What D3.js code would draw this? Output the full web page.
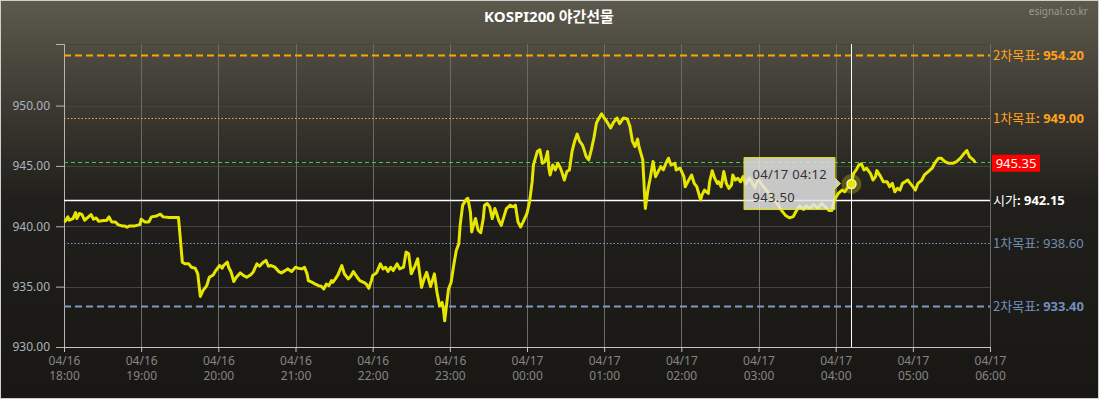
<!DOCTYPE html>
<html>
<head>
<meta charset="utf-8">
<script src="https://cdn.jsdelivr.net/npm/d3@7"></script>
<style>
  body { margin: 0; background: #fff; }
  svg { display: block; font-family: "Noto Sans", "Noto Sans CJK KR", sans-serif; }
</style>
</head>
<body>
<div id="chart"></div>
<script>
const svgWidth = 1099
const svgHeight = 399

let margin = {
  top: 44,
  right: 109,
  bottom: 52,
  left: 64
}

let width = svgWidth - margin.left - margin.right
let height = svgHeight - margin.top - margin.bottom

// ---- data ----
const chartTitle = "KOSPI200 야간선물"
const sourceText = "esignal.co.kr"
const sessionStart = new Date(2019, 3, 16, 18, 0)
const sessionEnd = new Date(2019, 3, 17, 6, 0)
const yDomain = [930, 955.1]
const yTicks = [930, 935, 940, 945, 950]

// minutes after 04/16 18:00
const minutes = [
  1, 3, 4, 7, 9, 10, 12, 14, 16, 19, 21, 23, 25, 27, 31, 33, 35, 37, 40, 42,
  45, 47, 49, 51, 55, 59, 60, 63, 66, 68, 72, 75, 77, 82, 89, 90, 92, 94, 97, 99,
  102, 104, 106, 108, 111, 113, 116, 118, 121, 123, 124, 127, 128, 130, 132, 134, 137, 139, 142, 145,
  147, 150, 152, 155, 157, 159, 161, 164, 167, 169, 172, 174, 177, 180, 182, 185, 187, 189, 190, 193,
  195, 198, 200, 202, 204, 206, 208, 209, 211, 213, 216, 218, 221, 223, 225, 228, 230, 233, 235, 237,
  239, 240, 243, 246, 248, 250, 252, 254, 256, 259, 261, 264, 266, 268, 270, 273, 275, 278, 280, 282,
  285, 288, 290, 292, 294, 295, 296, 298, 299, 301, 303, 305, 307, 308, 310, 313, 314, 316, 317, 318,
  320, 322, 324, 326, 327, 329, 331, 333, 335, 336, 338, 340, 342, 344, 347, 349, 351, 353, 355, 357,
  360, 362, 364, 365, 368, 370, 372, 374, 376, 377, 378, 380, 382, 384, 386, 387, 389, 391, 393, 395,
  397, 399, 401, 403, 404, 406, 408, 410, 412, 414, 416, 418, 420, 422, 425, 427, 430, 432, 435, 438,
  440, 442, 444, 446, 447, 450, 452, 454, 456, 458, 460, 462, 464, 466, 468, 470, 472, 475, 476, 479,
  482, 483, 485, 488, 490, 492, 495, 496, 498, 501, 502, 504, 506, 508, 509, 511, 513, 515, 517, 519,
  520, 522, 524, 526, 528, 530, 533, 537, 540, 543, 546, 549, 552, 555, 558, 561, 564, 567, 569, 572,
  575, 577, 580, 583, 586, 589, 592, 595, 597, 599, 602, 605, 607, 610, 612, 614, 616, 618, 620, 622,
  624, 627, 629, 631, 632, 635, 637, 640, 642, 644, 646, 648, 650, 652, 654, 656, 658, 660, 662, 664,
  667, 669, 672, 675, 677, 680, 682, 685, 688, 691, 694, 697, 699, 702, 704, 707, 708
]

const prices = [
  940.42, 940.78, 940.50, 940.64, 941.14, 940.64, 941.06, 940.97, 940.50, 940.78,
  940.97, 940.58, 940.69, 940.42, 940.47, 940.47, 940.78, 940.36, 940.36, 940.14,
  940.03, 940.03, 939.92, 940.03, 940.03, 940.14, 940.58, 940.36, 940.36, 940.78,
  940.86, 941.00, 940.78, 940.72, 940.72, 939.53, 937.03, 936.89, 936.89, 936.61,
  936.53, 936.06, 934.19, 934.67, 935.08, 935.78, 935.97, 936.33, 936.75, 936.53,
  936.75, 937.03, 936.61, 936.19, 935.42, 935.78, 936.14, 935.97, 935.78, 935.97,
  936.19, 936.89, 936.69, 937.03, 937.17, 936.69, 936.75, 936.61, 936.25, 936.14,
  936.33, 936.47, 936.25, 936.61, 936.53, 936.47, 936.61, 936.06, 935.50, 935.36,
  935.22, 935.08, 935.03, 934.81, 935.22, 935.08, 935.50, 935.36, 935.64, 935.97,
  936.75, 936.06, 935.64, 935.86, 936.25, 935.78, 935.50, 935.36, 935.22, 934.86,
  935.50, 935.92, 936.14, 936.89, 936.47, 936.61, 936.25, 936.61, 936.33, 936.89,
  936.47, 936.61, 937.86, 937.72, 936.06, 936.75, 937.31, 934.94, 935.64, 936.19,
  935.00, 936.06, 934.53, 933.42, 933.69, 933.14, 932.17, 933.97, 934.81, 935.36,
  936.75, 938.00, 938.56, 940.08, 941.75, 942.25, 942.31, 941.19, 939.53, 939.94,
  940.64, 939.67, 939.47, 940.64, 941.75, 941.89, 941.61, 940.64, 941.47, 941.19,
  940.50, 940.08, 940.78, 941.47, 941.75, 941.61, 941.75, 940.36, 939.94, 940.36,
  941.06, 942.03, 943.69, 945.08, 946.19, 946.33, 945.22, 945.36, 946.19, 944.81,
  944.25, 945.08, 944.67, 945.22, 944.81, 944.53, 943.83, 944.53, 944.67, 946.19,
  947.03, 947.64, 947.03, 946.75, 946.47, 945.78, 945.50, 946.33, 947.31, 948.56,
  948.97, 949.31, 948.97, 948.69, 948.14, 948.56, 948.97, 948.50, 948.97, 948.89,
  948.28, 947.03, 946.61, 947.22, 946.61, 945.50, 941.47, 943.00, 944.11, 945.36,
  944.11, 944.53, 944.94, 944.67, 945.22, 945.64, 945.08, 945.22, 944.67, 944.81,
  944.11, 943.28, 943.69, 944.25, 943.56, 943.28, 942.17, 942.58, 943.00, 942.72,
  943.69, 944.60, 943.97, 943.56, 943.69, 943.28, 944.53, 943.56, 943.14, 943.42,
  944.25, 943.83, 943.97, 943.69, 944.11, 943.50, 944.00, 943.20, 943.90, 943.40,
  943.00, 942.60, 942.20, 941.80, 941.30, 940.90, 940.70, 940.80, 941.20, 941.70,
  941.40, 941.70, 941.50, 941.80, 941.50, 941.90, 941.60, 941.30, 941.30, 942.17,
  942.72, 943.00, 942.86, 943.30, 943.50, 944.39, 944.67, 945.08, 945.17, 944.67,
  944.81, 944.39, 943.83, 944.11, 944.61, 944.11, 943.69, 943.69, 943.28, 943.56,
  942.86, 943.14, 943.00, 943.56, 943.69, 943.83, 943.56, 943.28, 943.00, 943.56,
  943.83, 944.25, 944.53, 944.81, 945.22, 945.64, 945.64, 945.36, 945.22, 945.22,
  945.36, 945.64, 945.92, 946.28, 945.78, 945.50, 945.35
]

// reference levels drawn across the chart
const levelNames = ["2차목표", "1차목표", "", "시가", "1차목표", "2차목표"]
const levelValues = [954.20, 949.00, 945.35, 942.15, 938.60, 933.40]

// hovered point
const tooltipMinute = 612
const tooltipPrice = 943.50
const tooltipLabel = "04/17 04:12"

// ---- styles for the levels (same order as levelValues) ----
const levelStyles = [
  { color: "#ffa500", width: 2, dash: "7,4", text: "#ffa31a", weight: "bold" },
  { color: "#f0b040", width: 1, dash: "1.5,2", text: "#ffa31a", weight: "bold" },
  { color: "#3ad43a", width: 1, dash: "4,3", text: "#ffffff", weight: "normal" },
  { color: "#ffffff", width: 1.5, dash: null, text: "#ffffff", weight: "bold" },
  { color: "#7f9cc4", width: 1, dash: "1.5,2", text: "#6f8cb0", weight: "normal" },
  { color: "#7b9bc2", width: 2, dash: "7,4", text: "#6f8fbd", weight: "bold" }
]

let svg = d3
  .select("#chart")
  .append("svg")
  .attr("width", svgWidth)
  .attr("height", svgHeight)

// background gradient
let grad = svg.append("defs")
  .append("linearGradient")
  .attr("id", "bg")
  .attr("x1", 0).attr("y1", 0).attr("x2", 0).attr("y2", 1)
grad.append("stop").attr("offset", "0%").attr("stop-color", "#5c594d")
grad.append("stop").attr("offset", "25%").attr("stop-color", "#3e3b33")
grad.append("stop").attr("offset", "50%").attr("stop-color", "#211f1b")
grad.append("stop").attr("offset", "100%").attr("stop-color", "#191713")

svg.append("rect")
  .attr("x", 0.5).attr("y", 0.5)
  .attr("width", svgWidth - 1).attr("height", svgHeight - 1)
  .attr("fill", "url(#bg)")
  .attr("stroke", "#cfcfcf")

svg.append("text")
  .attr("x", 549)
  .attr("y", 22)
  .attr("text-anchor", "middle")
  .attr("fill", "#ffffff")
  .attr("font-size", 15)
  .attr("font-weight", "bold")
  .text(chartTitle)

svg.append("text")
  .attr("x", 1088)
  .attr("y", 15)
  .attr("text-anchor", "end")
  .attr("fill", "#9a9a9a")
  .attr("font-size", 10)
  .text(sourceText)

let chartGroup = svg
  .append("g")
  .attr("transform", `translate(${margin.left}, ${margin.top})`)

let xTimeScale = d3.scaleTime().domain([sessionStart, sessionEnd]).range([0, width])
let yLinearScale = d3.scaleLinear().domain(yDomain).range([height, 0])

let toDate = m => new Date(sessionStart.getTime() + m * 60000)
let hourTicks = xTimeScale.ticks(d3.timeHour.every(1))

// horizontal grid
chartGroup.append("g")
  .selectAll("line")
  .data(yTicks.concat([yDomain[1]]))
  .enter()
  .append("line")
  .attr("x1", 0)
  .attr("x2", width)
  .attr("y1", d => Math.round(yLinearScale(d)) + 0.5)
  .attr("y2", d => Math.round(yLinearScale(d)) + 0.5)
  .attr("stroke", "#47443d")

// vertical grid
chartGroup.append("g")
  .selectAll("line")
  .data(hourTicks)
  .enter()
  .append("line")
  .attr("x1", d => Math.round(xTimeScale(d)) + 0.5)
  .attr("x2", d => Math.round(xTimeScale(d)) + 0.5)
  .attr("y1", 0)
  .attr("y2", height)
  .attr("stroke", "#6b6a66")

// axes
let leftAxis = d3.axisLeft(yLinearScale)
  .tickValues(yTicks)
  .tickFormat(d3.format(".2f"))
  .tickSizeInner(8)
  .tickSizeOuter(8)
  .tickPadding(6)

let yAxisG = chartGroup.append("g").call(leftAxis)
yAxisG.select(".domain").attr("stroke", "#b5b5b5")
yAxisG.selectAll(".tick line").attr("stroke", "#b5b5b5")
yAxisG.selectAll(".tick text")
  .attr("fill", "#aab3bc")
  .attr("font-size", 12)
  .attr("font-family", "Noto Sans, sans-serif")

let bottomAxis = d3.axisBottom(xTimeScale)
  .tickValues(hourTicks)
  .tickFormat(d3.timeFormat("%m/%d|%H:%M"))
  .tickSizeInner(5)
  .tickSizeOuter(0)

let xAxisG = chartGroup.append("g")
  .attr("transform", `translate(0, ${height})`)
  .call(bottomAxis)
xAxisG.select(".domain").attr("stroke", "#c4c4c4")
xAxisG.selectAll(".tick line").attr("stroke", "#c4c4c4")
xAxisG.selectAll(".tick text")
  .attr("fill", "#858585")
  .attr("font-size", 12)
  .attr("font-family", "Noto Sans, sans-serif")
  .each(function() {
    let parts = d3.select(this).text().split("|")
    let t = d3.select(this).text(null).attr("y", 0).attr("dy", null)
    t.append("tspan").attr("x", 0).attr("y", 18).text(parts[0])
    t.append("tspan").attr("x", 0).attr("y", 33).text(parts[1])
  })

// level lines
let levels = levelValues.map((v, i) => ({ name: levelNames[i], value: v, style: levelStyles[i] }))

chartGroup.append("g")
  .selectAll("line")
  .data(levels)
  .enter()
  .append("line")
  .attr("x1", 0)
  .attr("x2", width)
  .attr("y1", d => Math.round(yLinearScale(d.value)) + 0.5)
  .attr("y2", d => Math.round(yLinearScale(d.value)) + 0.5)
  .attr("stroke", d => d.style.color)
  .attr("stroke-width", d => d.style.width)
  .attr("stroke-dasharray", d => d.style.dash)

// price line
let series = minutes.map((m, i) => ({ date: toDate(m), price: prices[i] }))

let line = d3.line()
  .x(d => xTimeScale(d.date))
  .y(d => yLinearScale(d.price))

chartGroup.append("path")
  .datum(series)
  .attr("d", line)
  .attr("fill", "none")
  .attr("stroke", "#e6e600")
  .attr("stroke-width", 3)
  .attr("stroke-linejoin", "round")
  .attr("stroke-linecap", "round")

// level labels on the right
let labelGroup = chartGroup.append("g")
  .attr("transform", `translate(${width + 3}, 0)`)

levels.forEach(d => {
  let y = yLinearScale(d.value)
  if (d.name === "") {
    labelGroup.append("rect")
      .attr("x", -1)
      .attr("y", y - 7)
      .attr("width", 48)
      .attr("height", 17)
      .attr("fill", "#ff0000")
    labelGroup.append("text")
      .attr("x", 23)
      .attr("y", y + 6)
      .attr("text-anchor", "middle")
      .attr("fill", d.style.text)
      .attr("font-size", 13)
      .text(d3.format(".2f")(d.value))
    return
  }
  let t = labelGroup.append("text")
    .attr("x", 0)
    .attr("y", y + 5)
    .attr("fill", d.style.text)
    .attr("font-size", 13)
  t.append("tspan").attr("font-family", "Noto Sans CJK KR").text(d.name)
  t.append("tspan").attr("font-weight", d.style.weight).text(": " + d3.format(".2f")(d.value))
})

// crosshair + marker
let hx = Math.round(xTimeScale(toDate(tooltipMinute))) + 0.5
let hy = yLinearScale(tooltipPrice)

chartGroup.append("line")
  .attr("x1", hx).attr("x2", hx)
  .attr("y1", 0).attr("y2", height)
  .attr("stroke", "#ffffff")
  .attr("stroke-width", 1)

chartGroup.append("circle")
  .attr("cx", hx).attr("cy", hy).attr("r", 10)
  .attr("fill", "#d8d800").attr("opacity", 0.3)
chartGroup.append("circle")
  .attr("cx", hx).attr("cy", hy).attr("r", 4.5)
  .attr("fill", "#e6e600")
  .attr("stroke", "#f4f4c0")
  .attr("stroke-width", 1.5)

// tooltip
let tip = chartGroup.append("g")
  .attr("transform", `translate(${hx - 108}, ${hy - 27})`)

tip.append("path")
  .attr("d", "M0.5,0.5H91.5V21L97,26.5L91.5,32V52.5H0.5Z")
  .attr("fill", "#e4e4e4")
  .attr("fill-opacity", 0.85)
  .attr("stroke", "#e0e000")
  .attr("stroke-width", 1)

tip.append("text")
  .attr("x", 9).attr("y", 22)
  .attr("fill", "#333333")
  .attr("font-size", 13)
  .attr("letter-spacing", 0.3)
  .text(tooltipLabel)

tip.append("text")
  .attr("x", 9).attr("y", 45)
  .attr("fill", "#333333")
  .attr("font-size", 13)
  .attr("letter-spacing", 0.3)
  .text(d3.format(".2f")(tooltipPrice))
</script>
</body>
</html>
